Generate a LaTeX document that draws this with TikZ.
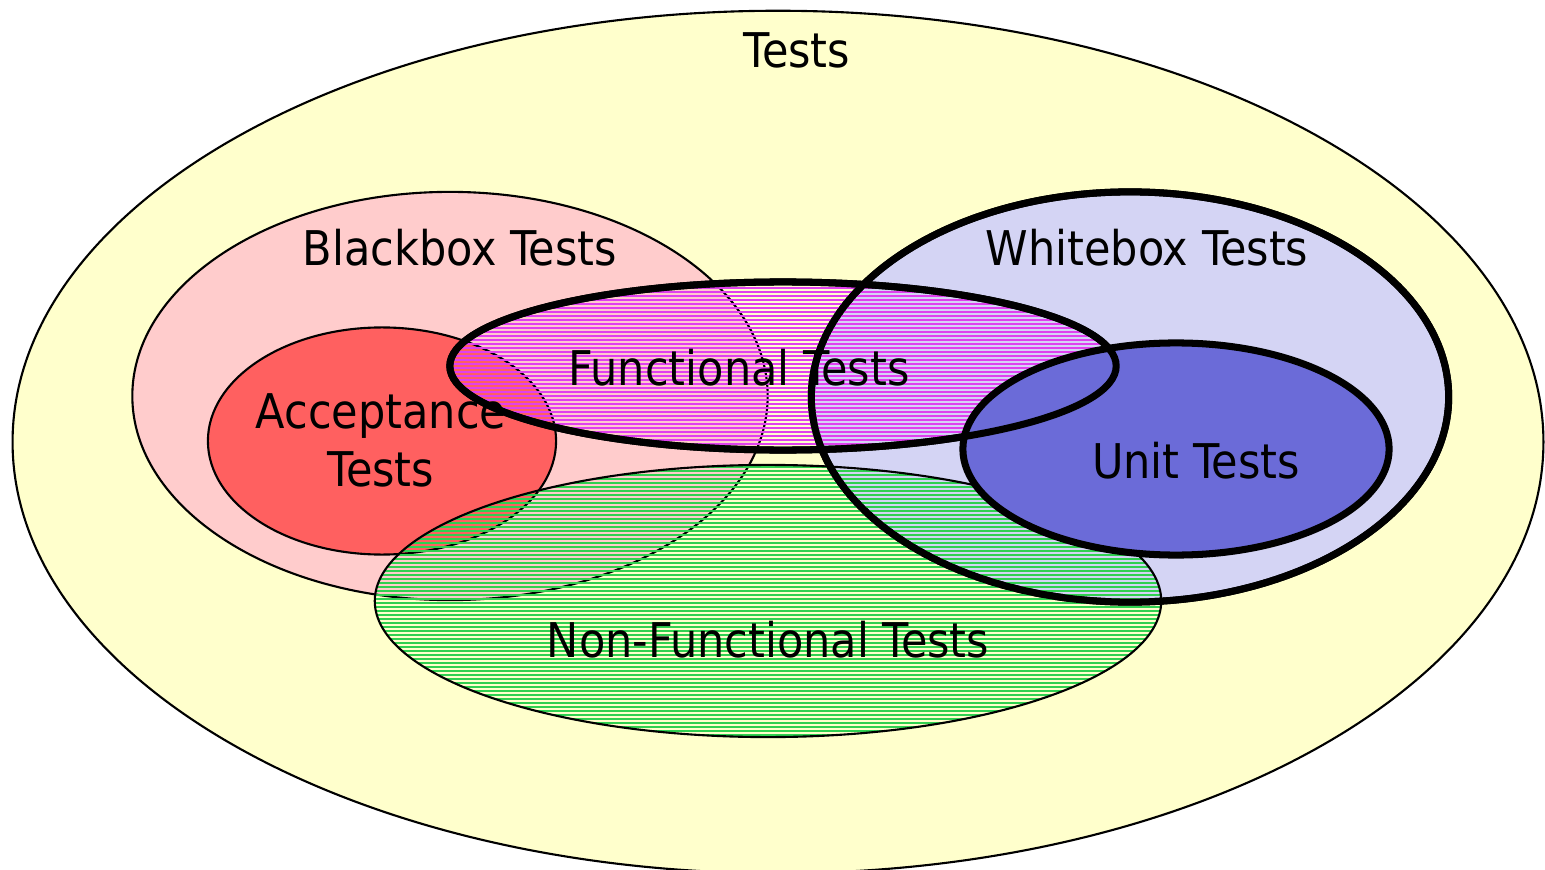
\documentclass[tikz,border=0pt]{standalone}
\usepackage{fontspec}
\setmainfont{DejaVu Sans Condensed}
\usepackage{xcolor}
\usepackage{tikz}
\usetikzlibrary{shapes.geometric}

\definecolor{testsyellow}{HTML}{FFFFCC}
\definecolor{bbpink}{HTML}{FFCCCC}
\definecolor{accred}{HTML}{FF6060}
\definecolor{wblilac}{HTML}{D4D4F4}
\definecolor{unitblue}{HTML}{6B6BD8}
\definecolor{fnmagenta}{HTML}{E040F0}
\definecolor{nfgreen}{HTML}{30D050}

\begin{document}
\begin{tikzpicture}[x=0.01cm, y=-0.01cm,
	set/.style={ellipse, draw, inner sep=0pt, outer sep=0pt, line width=0.6pt},
	bold set/.style={set, line width=2pt},
	hatch/.style={path picture={
		\foreach \k in {0,...,72}
		\draw[#1, line width=0.38pt]
		([yshift=-\k*0.04cm-0.02cm]path picture bounding box.north west) --
		([yshift=-\k*0.04cm-0.02cm]path picture bounding box.north east);}},
	caption/.style={inner sep=0pt, anchor=base, align=center,
		font=\fontsize{13.6}{16.5}\selectfont}]
	\useasboundingbox (0,0) rectangle (1545,870);
	% sets
	\node[set, fill=testsyellow, minimum width=15.30cm, minimum height=8.62cm] (tests) at (778,442) {};
	\node[set, fill=bbpink, minimum width=6.35cm, minimum height=4.08cm] (bb) at (450,396) {};
	\node[set, fill=accred, minimum width=3.48cm, minimum height=2.27cm] (acc) at (382,441) {};
	\node[bold set, fill=wblilac, minimum width=6.37cm, minimum height=4.10cm] (wb) at (1130,397) {};
	\node[set, hatch=nfgreen, minimum width=7.86cm, minimum height=2.72cm] (nf) at (768,601) {};
	\node[bold set, hatch=fnmagenta, minimum width=6.66cm, minimum height=1.68cm] (fn) at (783,366) {};
	\node[bold set, fill=unitblue, minimum width=4.26cm, minimum height=2.12cm] (unit) at (1176,449) {};
	% borders on top
	\draw[line width=2pt] (wb.center) ellipse [x radius=3.185cm, y radius=2.05cm];
	\draw[line width=2pt] (fn.center) ellipse [x radius=3.33cm, y radius=0.84cm];
	% labels
	\node[caption] (testslbl) at (797,68) {Tests};
	\node[caption] (bblbl) at (460,265) {Blackbox Tests};
	\node[caption] (wblbl) at (1147,265) {Whitebox Tests};
	\node[caption] (fnlbl) at (739,386) {Functional Tests};
	\node[caption, anchor=north] (acclbl) at (381,393) {Acceptance\\Tests};
	\node[caption] (unitlbl) at (1196,478) {Unit Tests};
	\node[caption] (nflbl) at (768,657) {Non-Functional Tests};
\end{tikzpicture}
\end{document}
